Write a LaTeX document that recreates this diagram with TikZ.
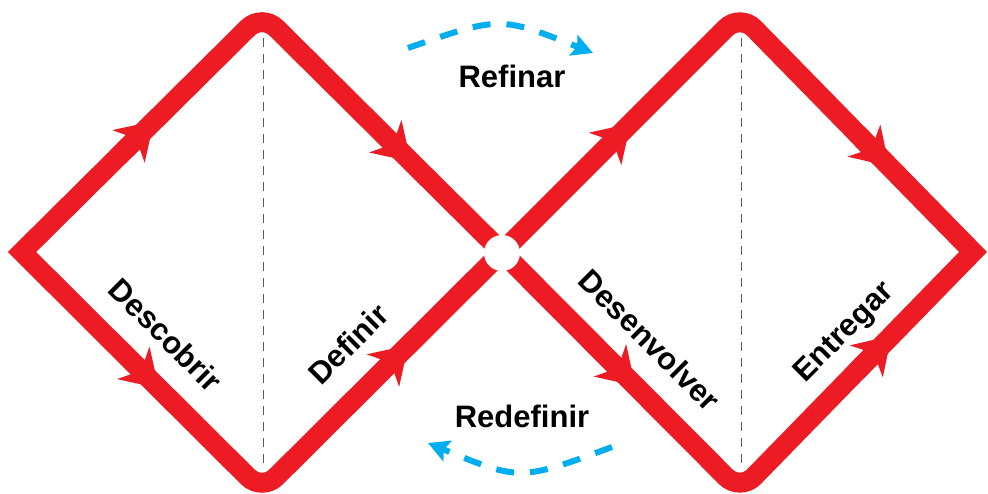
\documentclass[tikz,border=0pt]{standalone}
\usepackage{fontspec}
\setmainfont{Liberation Sans}
\usetikzlibrary{arrows.meta,decorations.markings,calc}
\definecolor{dred}{RGB}{237,28,36}
\definecolor{dblue}{RGB}{0,174,239}
\definecolor{dgray}{RGB}{90,90,90}
\begin{document}
\begin{tikzpicture}[x=1pt,y=-1pt,
  band/.style={draw=dred, line width=20pt, line join=miter, line cap=butt},
  roundband/.style={band, rounded corners=20pt},
  redarrow/.style={decoration={markings, mark=at position #1 with {\fill[dred] (0,0) -- (-36,23) -- (-25,0) -- (-36,-23) -- cycle;}}, decorate},
  lbl/.style={font=\fontsize{31}{36}\selectfont\bfseries, inner sep=0pt, text=black},
  flow/.style={draw=dblue, line width=6pt, dash pattern=on 18pt off 16pt, -{Stealth[length=21pt,width=22pt,inset=4pt]}},
  divider/.style={draw=dgray, line width=0.9pt, dash pattern=on 9pt off 7pt}]
\useasboundingbox (0,0) rectangle (988,494);
% vertices
\coordinate (L1) at (22,252);
\coordinate (T1) at (262,14);
\coordinate (B1) at (262,491);
\coordinate (C)  at (502,252);
\coordinate (T2) at (740,14);
\coordinate (B2) at (740,491);
\coordinate (R2) at (973,252);
% dividers
\coordinate (d1a) at (263,38);
\coordinate (d1b) at (263,466);
\coordinate (d2a) at (741,38);
\coordinate (d2b) at (741,466);
\draw[divider] (d1a) -- (d1b);
\draw[divider] (d2a) -- (d2b);
% red bands, left diamond
\draw[band] ($(L1)!0.5!(T1)$) -- (L1) -- ($(L1)!0.5!(B1)$);
\draw[roundband] ($(L1)!0.4!(T1)$) -- (T1) -- (C);
\draw[roundband] ($(L1)!0.4!(B1)$) -- (B1) -- (C);
% red bands, right diamond
\draw[band] ($(R2)!0.5!(T2)$) -- (R2) -- ($(R2)!0.5!(B2)$);
\draw[roundband] (C) -- (T2) -- ($(R2)!0.4!(T2)$);
\draw[roundband] (C) -- (B2) -- ($(R2)!0.4!(B2)$);
% arrows on the bands
\path[redarrow=0.55] (L1) -- (T1);
\path[redarrow=0.62] (T1) -- (C);
\path[redarrow=0.57] (L1) -- (B1);
\path[redarrow=0.61] (B1) -- (C);
\path[redarrow=0.54] (C) -- (T2);
\path[redarrow=0.64] (T2) -- (R2);
\path[redarrow=0.56] (C) -- (B2);
\path[redarrow=0.65] (B2) -- (R2);
% hub
\node[circle, fill=white, minimum size=36pt, inner sep=0pt] (hub) at (502,253) {};
% labels
\node[lbl, rotate=-45] (descobrir) at (166,335) {Descobrir};
\node[lbl, rotate=45] (definir) at (348,344) {Definir};
\node[lbl, rotate=-45] (desenvolver) at (650,340) {Desenvolver};
\node[lbl, rotate=45] (entregar) at (845,333) {Entregar};
\node[lbl, anchor=base] (refinar) at (512,88) {Refinar};
\node[lbl, anchor=base] (redefinir) at (522,427) {Redefinir};
% blue flows
\coordinate (f1a) at (408,48);
\coordinate (f1b) at (593,53);
\coordinate (f2a) at (612,447);
\coordinate (f2b) at (428,443);
\draw[flow] (f1a) .. controls (500,16) .. (f1b);
\draw[flow] (f2a) .. controls (520,481) .. (f2b);
\end{tikzpicture}
\end{document}
